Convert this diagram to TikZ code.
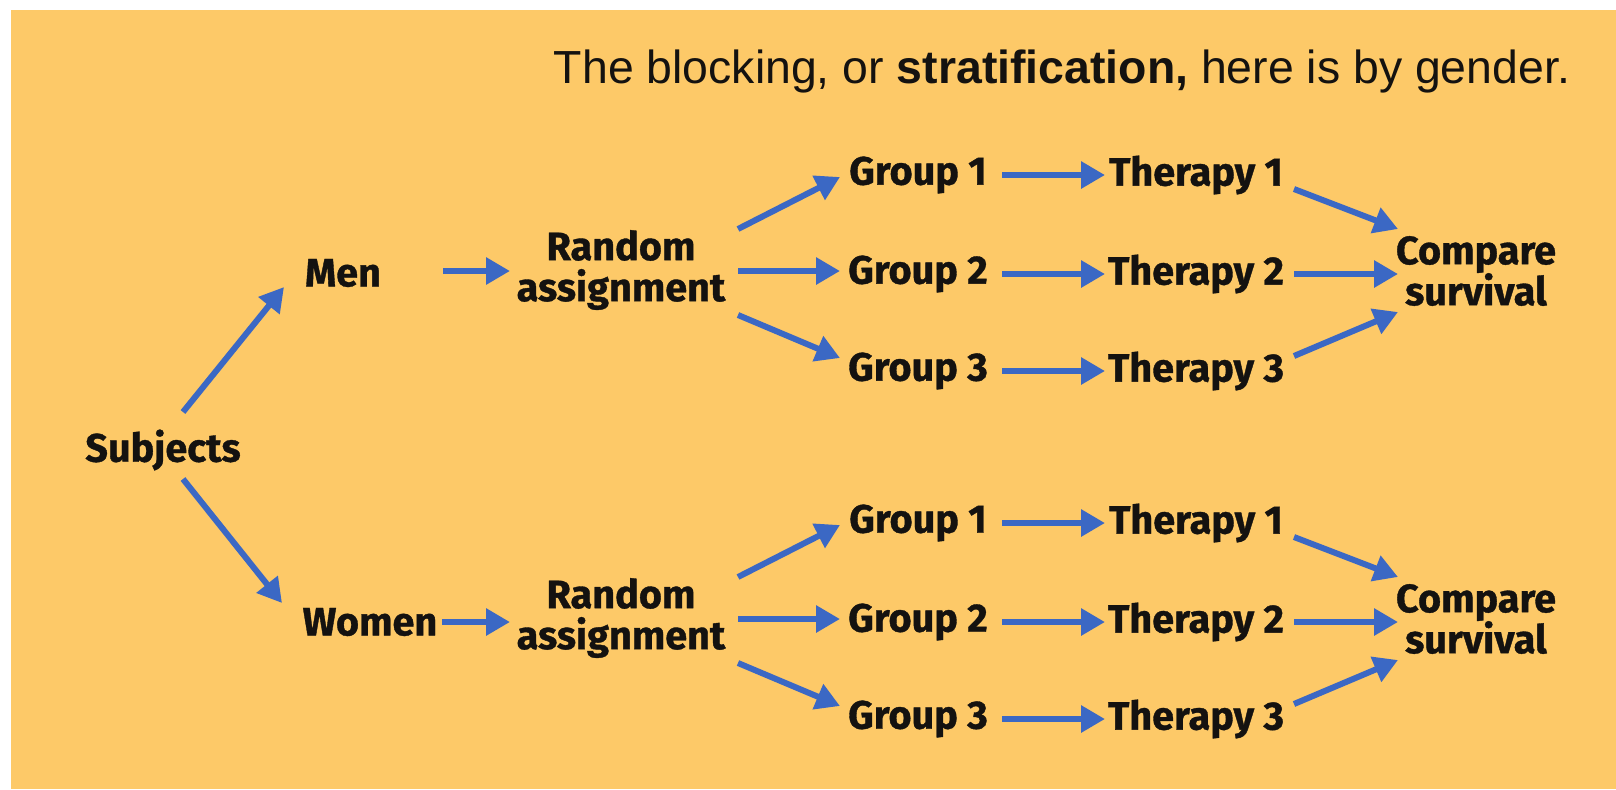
\documentclass[tikz,border=0pt]{standalone}
\usepackage{fontspec}
\setmainfont{Liberation Sans}
\newfontfamily\nodefont{Fira Sans}[BoldFeatures={FakeBold=0.9}]
\usetikzlibrary{arrows.meta}
\definecolor{bg}{RGB}{253,201,104}
\definecolor{arrblue}{RGB}{59,104,196}
\definecolor{ink}{RGB}{20,18,16}
\begin{document}
\begin{tikzpicture}[x=0.5pt,y=-0.5pt,
  lbl/.style={font=\nodefont\bfseries\fontsize{19.8}{20.5}\selectfont, align=center, inner sep=0pt, text=ink},
  arr/.style={draw=arrblue, line width=3pt, -{Triangle[length=12pt,width=13pt]}}]
\useasboundingbox (0,0) rectangle (1616,789);
\fill[white] (0,0) rectangle (1616,789);
\fill[bg] (11,10) rectangle (1616,789);

\node[font=\fontsize{23.2}{27}\selectfont, anchor=base, inner sep=0pt, text=ink] (title) at (1062,83)
  {The blocking, or \textbf{stratification,} here is by gender.};

\node[lbl] (subj) at (163,450) {Subjects};
\node[lbl] (men) at (343,273) {Men};
\node[lbl] (women) at (370,622) {Women};

\foreach \b/\dy in {a/0,b/348}{
  \node[lbl] (ra\b) at (621,270+\dy) {Random\\assignment};
  \node[lbl] (g\b1) at (918,175+\dy) {Group 1};
  \node[lbl] (g\b2) at (918,274+\dy) {Group 2};
  \node[lbl] (g\b3) at (918,371+\dy) {Group 3};
  \node[lbl] (t\b1) at (1196,175+\dy) {Therapy 1};
  \node[lbl] (t\b2) at (1196,274+\dy) {Therapy 2};
  \node[lbl] (t\b3) at (1196,371+\dy) {Therapy 3};
  \node[lbl] (c\b) at (1476,271+\dy) {Compare\\survival};
  \draw[arr] ([shift={(117,-41)}]ra\b.center) -- ([shift={(-78,2)}]g\b1.center);
  \draw[arr] ([shift={(117,1)}]ra\b.center) -- ([shift={(-78,-3)}]g\b2.center);
  \draw[arr] ([shift={(117,45)}]ra\b.center) -- ([shift={(-78,-13)}]g\b3.center);
  \foreach \i in {1,2,3}{
    \draw[arr] ([shift={(84,0)}]g\b\i.center) -- ([shift={(-91,0)}]t\b\i.center);
  }
  \draw[arr] ([shift={(98,14)}]t\b1.center) -- ([shift={(-78,-42)}]c\b.center);
  \draw[arr] ([shift={(98,0)}]t\b2.center) -- ([shift={(-78,3)}]c\b.center);
  \draw[arr] ([shift={(98,-15)}]t\b3.center) -- ([shift={(-78,41)}]c\b.center);
}

\draw[arr] ([shift={(20,-38)}]subj.center) -- ([shift={(-59,14)}]men.center);
\draw[arr] ([shift={(20,29)}]subj.center) -- ([shift={(-88,-19)}]women.center);
\draw[arr] ([shift={(100,-2)}]men.center) -- ([shift={(-111,1)}]raa.center);
\draw[arr] ([shift={(72,0)}]women.center) -- ([shift={(-111,4)}]rab.center);
\end{tikzpicture}
\end{document}
